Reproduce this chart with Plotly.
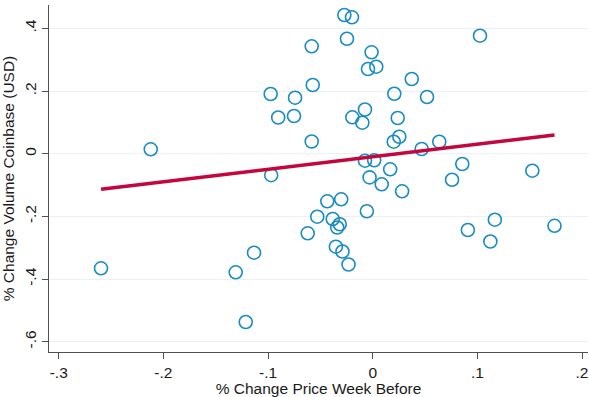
import numpy as np
import plotly.graph_objects as go

# Weekly % change in price (week before) vs. % change in Coinbase volume (USD)
price_change = [
    -0.0271, -0.0198, -0.0246, -0.0583, -0.0011, -0.0045, 0.0034, -0.0573,
    -0.0975, -0.0742, -0.0903, -0.0752, -0.0195, -0.0074, -0.0099, 0.1025,
    0.0373, 0.0206, 0.0519, 0.0239, -0.0583, -0.0970, -0.0074, 0.0014,
    0.0167, -0.0030, 0.0086, -0.0434, -0.0301, -0.0056, -0.0530, -0.0382,
    -0.0315, -0.0339, -0.0621, -0.0352, -0.0289, -0.0231, -0.1134, 0.0254,
    0.0201, 0.0468, 0.0636, 0.0281, 0.0856, 0.0758, 0.1167, 0.0909,
    0.1124, -0.2121, 0.1525, 0.1737, -0.2596, -0.1309, -0.1213,
]
volume_change = [
    0.4426, 0.4352, 0.3669, 0.3427, 0.3235, 0.2703, 0.2776, 0.2192,
    0.1905, 0.1787, 0.1155, 0.1203, 0.1161, 0.1410, 0.0989, 0.3765,
    0.2384, 0.1914, 0.1809, 0.1139, 0.0389, -0.0686, -0.0223, -0.0211,
    -0.0498, -0.0756, -0.0976, -0.1519, -0.1455, -0.1835, -0.2010, -0.2084,
    -0.2250, -0.2355, -0.2540, -0.2967, -0.3121, -0.3535, -0.3159, 0.0542,
    0.0383, 0.0150, 0.0383, -0.1200, -0.0329, -0.0830, -0.2106, -0.2435,
    -0.2802, 0.0140, -0.0542, -0.2301, -0.3657, -0.3784, -0.5370,
]

x_tickvals = [-0.3, -0.2, -0.1, 0.0, 0.1, 0.2]
x_ticktext = ["-.3", "-.2", "-.1", "0", ".1", ".2"]
y_tickvals = [-0.6, -0.4, -0.2, 0.0, 0.2, 0.4]
y_ticktext = ["-.6", "-.4", "-.2", "0", ".2", ".4"]

# Linear fit over the observed range
x_arr = np.array(price_change)
y_arr = np.array(volume_change)
slope, intercept = np.polyfit(x_arr, y_arr, 1)
fit_x = np.array([x_arr.min(), x_arr.max()])
fit_y = intercept + slope * fit_x

MARKER_COLOR = "#178cc4"
LINE_COLOR = "#c4063c"
AXIS_COLOR = "#505050"
GRID_COLOR = "#eaf1f2"
FONT = "Liberation Sans, Arial, sans-serif"

fig = go.Figure()
fig.add_trace(go.Scatter(
    x=price_change, y=volume_change, mode="markers",
    marker=dict(symbol="circle-open", size=13, color=MARKER_COLOR,
                line=dict(width=1.6, color=MARKER_COLOR)),
    showlegend=False, hoverinfo="x+y",
))
fig.add_trace(go.Scatter(
    x=fit_x, y=fit_y, mode="lines",
    line=dict(color=LINE_COLOR, width=3.5),
    showlegend=False,
))

fig.update_layout(
    width=589, height=397,
    margin=dict(l=49, r=1, t=5, b=45),
    paper_bgcolor="white", plot_bgcolor="white",
    font=dict(family=FONT, size=15.5, color="#1a1a1a"),
)
fig.update_xaxes(
    range=[-0.3093, 0.2057],
    tickvals=x_tickvals, ticktext=x_ticktext,
    showgrid=False, zeroline=False,
    showline=True, linecolor=AXIS_COLOR, linewidth=1.3,
    ticks="outside", ticklen=6, tickwidth=1.3, tickcolor=AXIS_COLOR,
    tickfont=dict(size=15.5),
    title=dict(text="% Change Price Week Before", font=dict(size=15.5), standoff=3),
)
fig.update_yaxes(
    range=[-0.6327, 0.4745],
    tickvals=y_tickvals, ticktext=y_ticktext, tickangle=-90,
    showgrid=True, gridcolor=GRID_COLOR, gridwidth=1.3, zeroline=False,
    showline=True, linecolor=AXIS_COLOR, linewidth=1.3,
    ticks="outside", ticklen=6, tickwidth=1.3, tickcolor=AXIS_COLOR,
    tickfont=dict(size=15.5),
    title=dict(text="% Change Volume Coinbase (USD)", font=dict(size=15.5), standoff=3),
)

fig.write_html("out.html")
